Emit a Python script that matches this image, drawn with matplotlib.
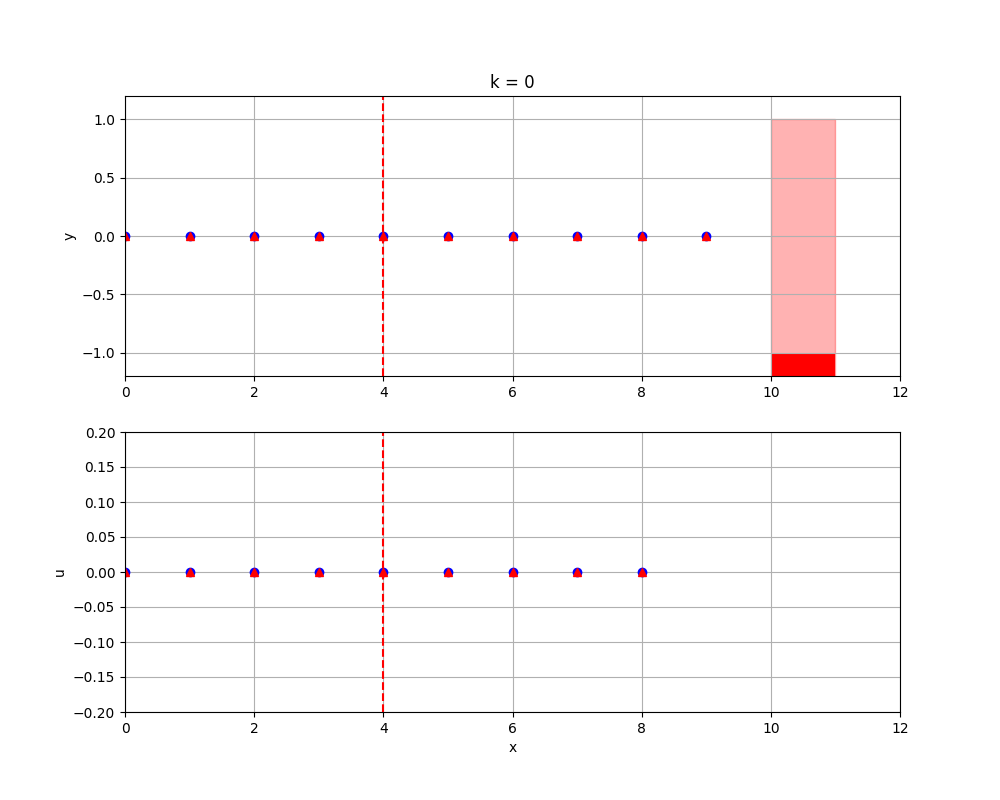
import numpy as np
import matplotlib
matplotlib.use('Agg')
import matplotlib.pyplot as plt

# state at step k
k = 0
x_pos = [0, 1, 2, 3, 4, 5, 6, 7, 8, 9]
y_actual = [0, 0, 0, 0, 0, 0, 0, 0, 0, 0]
y_ref = [0, 0, 0, 0, 0, 0, 0, 0, 0, 0]
u_pos = [0, 1, 2, 3, 4, 5, 6, 7, 8]
u_actual = [0, 0, 0, 0, 0, 0, 0, 0, 0]
u_ref = [0, 0, 0, 0, 0, 0, 0, 0, 0]
current_x = 4
bar_x = 10
bar_max = 1.0
bar_value = -1.0

fig, (ax1, ax2) = plt.subplots(2, 1, figsize=(10, 8), dpi=100)

ax1.set_title('k = ' + str(k))
ax1.plot(x_pos, y_actual, 'bo')
ax1.plot(x_pos, y_ref, 'r^')
ax1.axvline(current_x, color='r', linestyle='--')
ax1.bar(bar_x, bar_max - (-1.2), bottom=-1.2, width=1, align='edge',
        color='red', alpha=0.3, edgecolor='red', linewidth=1)
ax1.bar(bar_x, bar_value - (-1.2), bottom=-1.2, width=1, align='edge', color='red')
ax1.set_xlim(0, 12)
ax1.set_ylim(-1.2, 1.2)
ax1.set_ylabel('y')
ax1.grid(True)

ax2.plot(u_pos, u_actual, 'bo')
ax2.plot(u_pos, u_ref, 'r^')
ax2.axvline(current_x, color='r', linestyle='--')
ax2.set_xlim(0, 12)
ax2.set_ylim(-0.2, 0.2)
ax2.set_xlabel('x')
ax2.set_ylabel('u')
ax2.grid(True)

plt.savefig('out.png')
